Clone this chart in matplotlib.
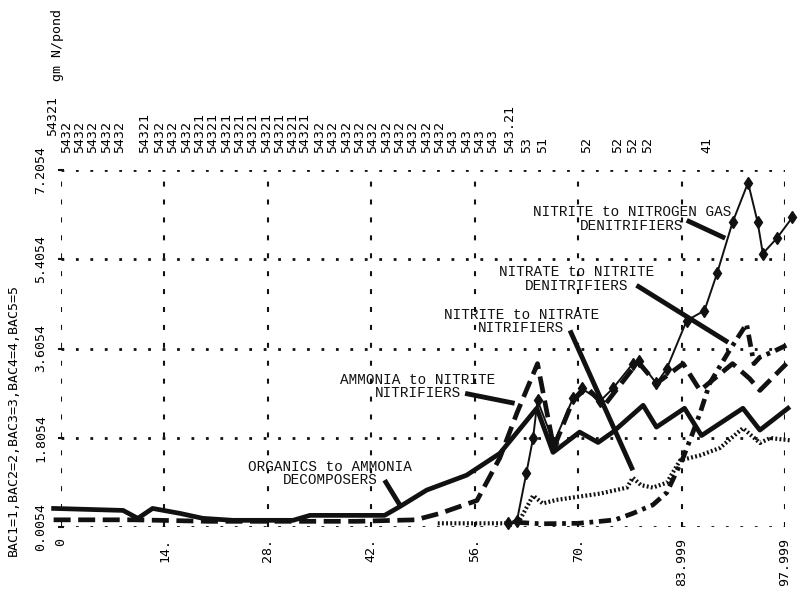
import matplotlib
matplotlib.use("Agg")
import matplotlib.pyplot as plt

# biomass of each bacterial group, gm N per pond, read by day
decomp_days = [-1, 8.4, 10.4, 12.4, 16.1, 19.2, 23.3, 31.4, 33.7, 43.8, 45.9, 49.5, 54.9,
               59.4, 64.4, 66.6, 70.2, 72.7, 74.7, 78.8, 80.6, 84.4, 86.7, 92.3, 94.6, 98.4]
decomp_vals = [0.38, 0.34, 0.18, 0.38, 0.28, 0.18, 0.14, 0.14, 0.24, 0.24, 0.42, 0.75, 1.05,
               1.49, 2.4, 1.51, 1.92, 1.71, 1.92, 2.46, 2.02, 2.4, 1.85, 2.4, 1.96, 2.4]

amm_days = [-1, 10, 20, 30, 40, 48, 51.3, 54, 56.3, 59.4, 61.7, 64.5, 66.7, 69.3, 71.2,
            73.5, 77.4, 78.3, 80.6, 84.2, 86.5, 90.9, 93.2, 94.6, 98.2]
amm_vals = [0.15, 0.15, 0.12, 0.12, 0.12, 0.15, 0.28, 0.42, 0.54, 1.4, 2.3, 3.3, 1.6, 2.56,
            2.82, 2.45, 3.2, 3.3, 2.9, 3.3, 2.76, 3.3, 3.0, 2.76, 3.3]

nitr_days = [51, 55, 60, 62, 63.9, 65.2, 67, 69.3, 73, 76.6, 77.4, 78.5, 80.1, 82, 83.8,
             86.5, 89.2, 92.3, 94.6, 96, 98.9]
nitr_vals = [0.08, 0.08, 0.08, 0.12, 0.64, 0.48, 0.55, 0.6, 0.68, 0.8, 1.0, 0.85, 0.8, 0.9,
             1.35, 1.45, 1.6, 2.0, 1.7, 1.8, 1.75]

nrate_days = [61.7, 65, 70, 73, 75, 77.4, 80.1, 82, 84.2, 85.5, 86.5, 87.8, 89, 90.5, 92.8,
              93.8, 94.6, 96.5, 98.6]
nrate_vals = [0.1, 0.07, 0.08, 0.12, 0.15, 0.28, 0.45, 0.7, 1.4, 1.9, 2.3, 2.9, 3.2, 3.57,
              4.1, 3.3, 3.43, 3.55, 3.7]

gas_days = [60.5, 61.7, 63, 63.9, 64.5, 66.7, 69.3, 70.5, 73, 74.7, 77.4, 78.3, 80.6, 82,
            84.7, 87.1, 88.8, 90.9, 93, 94.3, 95, 96.9, 99]
gas_vals = [0.08, 0.12, 1.1, 1.8, 2.56, 1.7, 2.6, 2.8, 2.55, 2.8, 3.3, 3.35, 2.9, 3.2,
            4.17, 4.37, 5.12, 6.15, 6.95, 6.15, 5.52, 5.83, 6.25]

x_ticks = [0, 14, 28, 42, 56, 70, 83.999, 97.999]
x_labels = ["0", "14.", "28.", "42.", "56.", "70.", "83.999", "97.999"]
y_ticks = [0.0054, 1.8054, 3.6054, 5.4054, 7.2054]
y_labels = ["0.0054", "1.8054", "3.6054", "5.4054", "7.2054"]

# overlap codes printed along the top edge
code_days = [0.81, 2.57, 4.33, 6.22, 7.98, 11.37, 13.40, 15.16, 17.05, 18.81, 20.57,
             22.46, 24.22, 25.98, 27.88, 29.63, 31.39, 33.02, 35.05, 36.81, 38.70, 40.46,
             42.22, 44.11, 45.87, 47.63, 49.53, 51.29, 53.04, 54.94, 56.70, 58.46, 60.76,
             63.06, 65.22, 71.18, 75.37, 77.40, 79.43, 87.42]
code_text = ["5432"] * 5 + ["54321"] + ["5432"] * 3 + ["54321"] * 9 + ["5432"] * 10 + \
            ["543"] * 4 + ["543.21", "53", "51", "52", "52", "52", "52", "41"]

MONO = "DejaVu Sans Mono"
TYPE = "Liberation Mono"
INK = "#111111"

fig = plt.figure(figsize=(7.99, 5.97), dpi=100)
ax = fig.add_axes([61 / 799, 70 / 597, 724 / 799, 357 / 597])
ax.set_xlim(0, 97.999)
ax.set_ylim(0.0054, 7.2054)
for s in ax.spines.values():
    s.set_visible(False)

# dotted horizontal and dashed vertical grid
for yv in y_ticks:
    ax.plot([0, 97.999], [yv, yv], color=INK, lw=2, dashes=(1, 4.2), zorder=1)
for xv in x_ticks:
    ax.plot([xv, xv], [0.0054, 7.2054], color=INK, lw=1.5, dashes=(2.4, 6.2), zorder=1)

ax.set_xticks(x_ticks, x_labels, rotation=90, fontfamily=MONO, fontsize=9.5)
ax.set_yticks(y_ticks, y_labels, rotation=90, va="center", fontfamily=MONO, fontsize=9.5)
ax.tick_params(axis="x", length=0, pad=8)
ax.tick_params(axis="y", length=4, width=1.5, direction="inout", pad=8, color=INK)

# the five groups
ax.plot(decomp_days, decomp_vals, color=INK, lw=3.4, clip_on=False, zorder=4)
ax.plot(amm_days, amm_vals, color=INK, lw=3.4, dashes=(3.6, 1.6), clip_on=False, zorder=4)
ax.plot(nitr_days, nitr_vals, color=INK, lw=3, dashes=(0.45, 0.55), clip_on=False, zorder=4)
ax.plot(nrate_days, nrate_vals, color=INK, lw=3.4, dashes=(2.6, 1.2, 0.8, 1.2),
        clip_on=False, zorder=4)
ax.plot(gas_days, gas_vals, color=INK, lw=1.4, marker="d", ms=6, clip_on=False, zorder=5)

# overlap codes across the top
for d, t in zip(code_days, code_text):
    ax.text(d, 7.55, t, rotation=90, ha="center", va="bottom", fontfamily=MONO,
            fontsize=9.5, clip_on=False)
ax.text(-1.08, 7.89, "54321", rotation=90, ha="center", va="bottom", fontfamily=MONO,
        fontsize=9.5, clip_on=False)

# labelled groups with leader lines
notes = [
    (["NITRITE to NITROGEN GAS", "DENITRIFIERS"], 77.3, 6.35, (84.7, 6.19), (89.9, 5.83)),
    (["NITRATE to NITRITE", "DENITRIFIERS"], 69.8, 5.14, (77.9, 4.88), (90.3, 3.73)),
    (["NITRITE to NITRATE", "NITRIFIERS"], 62.3, 4.28, (68.9, 3.97), (77.4, 1.15)),
    (["AMMONIA to NITRITE", "NITRIFIERS"], 48.3, 2.97, (54.7, 2.70), (61.4, 2.50)),
    (["ORGANICS to AMMONIA", "DECOMPOSERS"], 36.4, 1.22, (43.8, 0.95), (45.9, 0.44)),
]
for lines, tx, ty, p0, p1 in notes:
    ax.text(tx, ty, lines[0], ha="center", va="center", fontfamily=TYPE, fontsize=10.4,
            color=INK, zorder=6)
    ax.text(tx, ty - 0.27, lines[1], ha="center", va="center", fontfamily=TYPE,
            fontsize=10.4, color=INK, zorder=6)
    ax.plot([p0[0], p1[0]], [p0[1], p1[1]], color=INK, lw=3.5, solid_capstyle="butt",
            zorder=6)

fig.text(57 / 799, 1 - 45 / 597, "gm N/pond", rotation=90, ha="center", va="center",
         fontfamily=MONO, fontsize=9.5)
fig.text(13 / 799, 1 - 420 / 597, "BAC1=1,BAC2=2,BAC3=3,BAC4=4,BAC5=5", rotation=90,
         ha="center", va="center", fontfamily=MONO, fontsize=9.5)

fig.savefig("out.png", dpi=100, facecolor="white")
